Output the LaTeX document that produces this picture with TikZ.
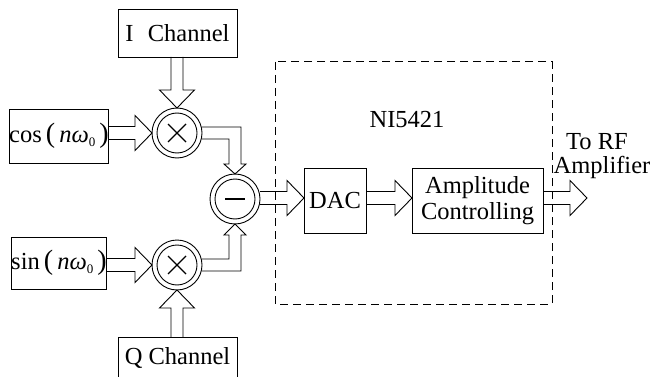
\documentclass[tikz,border=0pt]{standalone}
\usepackage{fontspec}
\setmainfont{Liberation Serif}
\usetikzlibrary{calc}
\tikzset{
  box/.style={draw, line width=0.9pt, inner sep=0pt, outer sep=0pt, font=\fontsize{24.5}{26}\selectfont},
  mix/.style={draw, circle, line width=0.9pt, minimum size=50pt, inner sep=0pt, outer sep=0pt},
  blk/.style={draw, line width=0.9pt, line join=miter},
  lbl/.style={inner sep=0pt, font=\fontsize{24.5}{26}\selectfont},
  frame/.style={draw, line width=1pt, dash pattern=on 8pt off 5pt},
}
\newcommand\bigpar[1]{{\fontsize{28}{28}\selectfont #1}}
\newcommand\subzero{\raisebox{-4pt}{\fontsize{13}{13}\selectfont 0}}
% horizontal block arrow: from x of #1 to tip #2 (at y of #2)
\newcommand\harr[2]{\draw[blk] ($(#1 |- #2)+(0,-6.5)$) -- ($(#2)+(-17,-6.5)$) -- ($(#2)+(-17,-17.5)$) -- (#2) -- ($(#2)+(-17,17.5)$) -- ($(#2)+(-17,6.5)$) -- ($(#1 |- #2)+(0,6.5)$);}
% downward block arrow: from y of #1 to tip #2
\newcommand\darr[2]{\draw[blk] ($(#2 |- #1)+(-6,0)$) -- ($(#2)+(-6,-18)$) -- ($(#2)+(-17.5,-18)$) -- (#2) -- ($(#2)+(17.5,-18)$) -- ($(#2)+(6,-18)$) -- ($(#2 |- #1)+(6,0)$);}
% upward block arrow
\newcommand\uarr[2]{\draw[blk] ($(#2 |- #1)+(-6,0)$) -- ($(#2)+(-6,18)$) -- ($(#2)+(-17.5,18)$) -- (#2) -- ($(#2)+(17.5,18)$) -- ($(#2)+(6,18)$) -- ($(#2 |- #1)+(6,0)$);}
\begin{document}
\begin{tikzpicture}[x=1pt,y=-1pt]
\useasboundingbox (0,0) rectangle (650,377);
\clip (0,0) rectangle (650,377);

% dashed NI5421 frame
\draw[frame] (275,62) rectangle (552,304);
\node[lbl] (ni) at (407,120) {NI5421};

% source boxes
\node[box, minimum width=119pt, minimum height=48pt] (ich) at (177.5,33) {I\hspace{0.33em} Channel};
\node[box, minimum width=119pt, minimum height=42pt] (qch) at (177.5,358) {Q Channel};
\node[box, minimum width=94pt, minimum height=54pt] (cos) at (59,136) {cos\,\bigpar{(}\,\textit{nω}\subzero\,\bigpar{)}};
\node[box, minimum width=94pt, minimum height=52pt] (sin) at (59,263) {sin\,\bigpar{(}\,\textit{nω}\subzero\,\bigpar{)}};

% mixers and subtractor
\node[mix] (m1) at (177,133) {};
\node[mix] (m2) at (177,265) {};
\node[mix] (sub) at (235,199) {};
\draw[line width=0.9pt] (m1.center) circle (20pt) (m2.center) circle (20pt) (sub.center) circle (20pt);
\draw[line width=1.3pt] ($(m1)+(-9,-9)$) -- ($(m1)+(9,9)$) ($(m1)+(-9,9)$) -- ($(m1)+(9,-9)$);
\draw[line width=1.3pt] ($(m2)+(-9,-9)$) -- ($(m2)+(9,9)$) ($(m2)+(-9,9)$) -- ($(m2)+(9,-9)$);
\draw[line width=1.6pt] ($(sub)+(-10,0)$) -- ($(sub)+(10,0)$);

% NI5421 blocks
\node[box, minimum width=62pt, minimum height=65pt] (dac) at (335,200.5) {DAC};
\node[box, minimum width=131pt, minimum height=65pt, align=center] (amp) at (477.5,200.5) {Amplitude\\Controlling};
\coordinate (out) at (587,198);
\node[lbl] (torf) at (597,142) {To RF};
\node[lbl] (ampl) at (602,167) {Amplifier};

% block arrows
\darr{ich.south}{m1.north}
\uarr{qch.north}{m2.south}
\harr{cos.east}{m1.west}
\harr{sin.east}{m2.west}
\harr{sub.east}{dac.west |- 0,198}
\harr{dac.east}{amp.west |- 0,198}
\harr{amp.east}{out}

% elbow arrows into the subtractor
\draw[blk] ($(m1.east)+(0,-6)$) -- ($(sub.north |- m1.east)+(6,-6)$) -- ($(sub.north)+(6,-10)$) -- ($(sub.north)+(11,-10)$) -- (sub.north) -- ($(sub.north)+(-11,-10)$) -- ($(sub.north)+(-6,-10)$) -- ($(sub.north |- m1.east)+(-6,6)$) -- ($(m1.east)+(0,6)$);
\draw[blk] ($(m2.east)+(0,6)$) -- ($(sub.south |- m2.east)+(6,6)$) -- ($(sub.south)+(6,11)$) -- ($(sub.south)+(11,11)$) -- (sub.south) -- ($(sub.south)+(-11,11)$) -- ($(sub.south)+(-6,11)$) -- ($(sub.south |- m2.east)+(-6,-6)$) -- ($(m2.east)+(0,-6)$);
\end{tikzpicture}
\end{document}
